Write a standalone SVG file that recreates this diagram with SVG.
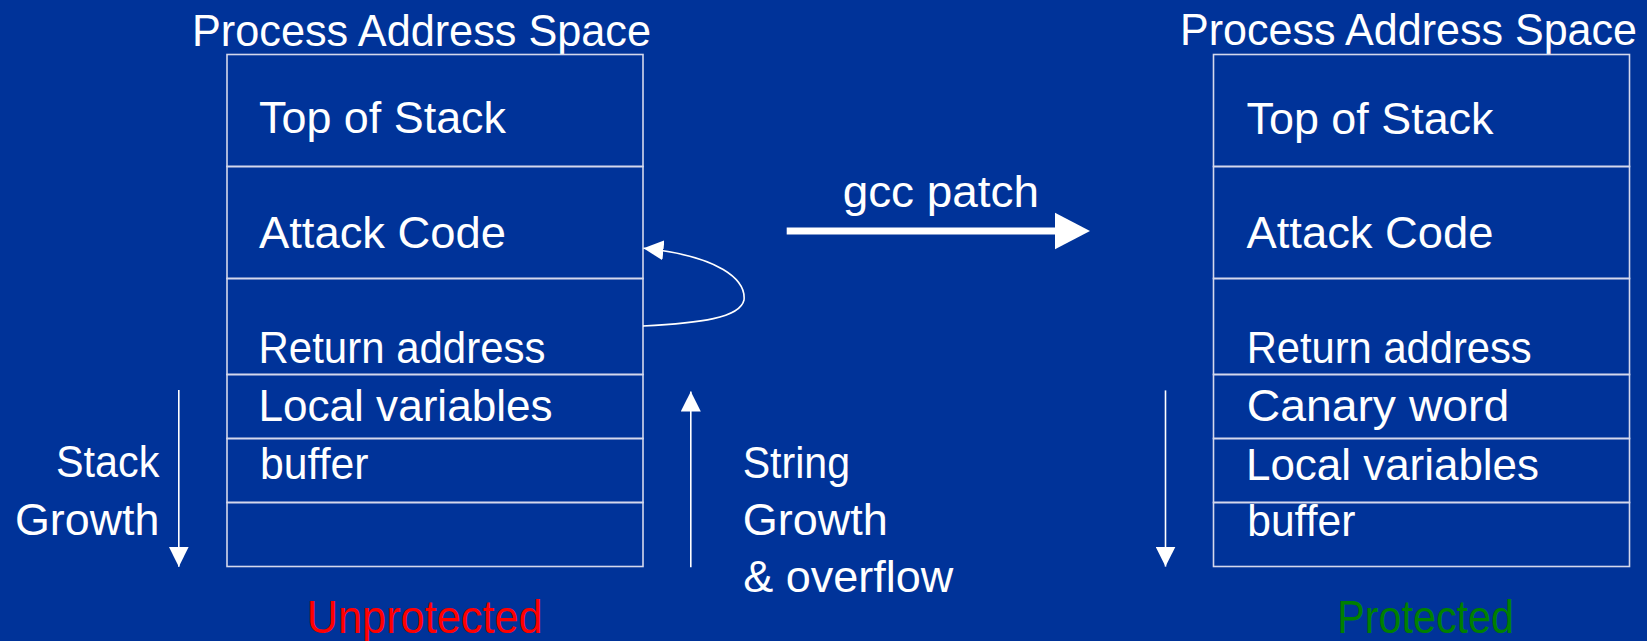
<svg xmlns="http://www.w3.org/2000/svg" width="1647" height="641" viewBox="0 0 1647 641">
  <style>
    .bg { fill: #003399; }
    .cell { fill: none; stroke: #d4d8ec; stroke-width: 1.6; }
    .t { font-family: "Liberation Sans", Arial, sans-serif; font-size: 45px; fill: #ffffff; }
    .title { font-size: 43.5px; }
    .caption { font-size: 47px; }
    .bad { fill: #ff0000; }
    .good { fill: #008000; }
    .thin { fill: none; stroke: #ffffff; stroke-width: 1.6; }
    .fat { fill: none; stroke: #ffffff; stroke-width: 7; }
  </style>
  <defs>
    <marker id="head" viewBox="0 0 20 20" refX="20" refY="10" markerWidth="20" markerHeight="20" markerUnits="userSpaceOnUse" orient="auto">
      <path d="M0,0 L20,10 L0,20 Z" fill="#ffffff"/>
    </marker>
  </defs>

  <rect class="bg" x="0" y="0" width="1647" height="641"/>

  <!-- Left stack: unprotected -->
  <g id="left-stack">
    <text class="t title" x="192" y="45.5" textLength="459" lengthAdjust="spacingAndGlyphs">Process Address Space</text>
    <g id="left-top-of-stack">
      <rect class="cell" x="227" y="54.5" width="416" height="112"/>
      <text class="t" x="259" y="133" textLength="247" lengthAdjust="spacingAndGlyphs">Top of Stack</text>
    </g>
    <g id="left-attack-code">
      <rect class="cell" x="227" y="166.5" width="416" height="112"/>
      <text class="t" x="259" y="248" textLength="247" lengthAdjust="spacingAndGlyphs">Attack Code</text>
    </g>
    <g id="left-return-address">
      <rect class="cell" x="227" y="278.5" width="416" height="96"/>
      <text class="t" x="258.5" y="363" textLength="287" lengthAdjust="spacingAndGlyphs">Return address</text>
    </g>
    <g id="left-local-variables">
      <rect class="cell" x="227" y="374.5" width="416" height="64"/>
      <text class="t" x="258.5" y="421" textLength="294" lengthAdjust="spacingAndGlyphs">Local variables</text>
    </g>
    <g id="left-buffer">
      <rect class="cell" x="227" y="438.5" width="416" height="64"/>
      <text class="t" x="260" y="479" textLength="108.5" lengthAdjust="spacingAndGlyphs">buffer</text>
    </g>
    <g id="left-bottom">
      <rect class="cell" x="227" y="502.5" width="416" height="64"/>
    </g>
    <text class="t caption bad" x="306.7" y="633.3" textLength="236" lengthAdjust="spacingAndGlyphs">Unprotected</text>
  </g>

  <!-- Right stack: protected -->
  <g id="right-stack">
    <text class="t title" x="1180" y="45" textLength="457" lengthAdjust="spacingAndGlyphs">Process Address Space</text>
    <g id="right-top-of-stack">
      <rect class="cell" x="1213.5" y="54.5" width="416" height="112"/>
      <text class="t" x="1246.5" y="133.5" textLength="247" lengthAdjust="spacingAndGlyphs">Top of Stack</text>
    </g>
    <g id="right-attack-code">
      <rect class="cell" x="1213.5" y="166.5" width="416" height="112"/>
      <text class="t" x="1246.5" y="248" textLength="247" lengthAdjust="spacingAndGlyphs">Attack Code</text>
    </g>
    <g id="right-return-address">
      <rect class="cell" x="1213.5" y="278.5" width="416" height="96"/>
      <text class="t" x="1246.7" y="363" textLength="285" lengthAdjust="spacingAndGlyphs">Return address</text>
    </g>
    <g id="right-canary-word">
      <rect class="cell" x="1213.5" y="374.5" width="416" height="64"/>
      <text class="t" x="1246.7" y="421" textLength="262.6" lengthAdjust="spacingAndGlyphs">Canary word</text>
    </g>
    <g id="right-local-variables">
      <rect class="cell" x="1213.5" y="438.5" width="416" height="64"/>
      <text class="t" x="1246" y="479.5" textLength="293" lengthAdjust="spacingAndGlyphs">Local variables</text>
    </g>
    <g id="right-buffer">
      <rect class="cell" x="1213.5" y="502.5" width="416" height="64"/>
      <text class="t" x="1247.3" y="536" textLength="108" lengthAdjust="spacingAndGlyphs">buffer</text>
    </g>
    <text class="t caption good" x="1337.3" y="632.7" textLength="176.7" lengthAdjust="spacingAndGlyphs">Protected</text>
  </g>

  <!-- Side labels -->
  <g id="stack-growth-label">
    <text class="t" x="56" y="477" textLength="103.3" lengthAdjust="spacingAndGlyphs">Stack</text>
    <text class="t" x="15" y="534.5" textLength="144.3" lengthAdjust="spacingAndGlyphs">Growth</text>
  </g>
  <g id="string-growth-label">
    <text class="t" x="742.7" y="477.7" textLength="107.3" lengthAdjust="spacingAndGlyphs">String</text>
    <text class="t" x="742.7" y="535" textLength="145" lengthAdjust="spacingAndGlyphs">Growth</text>
    <text class="t" x="743.3" y="592" textLength="210" lengthAdjust="spacingAndGlyphs">&amp; overflow</text>
  </g>
  <g id="gcc-patch-label">
    <text class="t" x="842.7" y="206.7" textLength="196.3" lengthAdjust="spacingAndGlyphs">gcc patch</text>
  </g>

  <!-- Connectors -->
  <g id="connectors">
    <!-- stack growth, left -->
    <line class="thin" x1="178.8" y1="390" x2="178.8" y2="566.7" marker-end="url(#head)"/>
    <!-- string growth & overflow -->
    <line class="thin" x1="690.8" y1="567.3" x2="690.8" y2="391.5" marker-end="url(#head)"/>
    <!-- return address overwritten to point at attack code -->
    <path class="thin" d="M643,326 C700,323 740,318 744,300 C746,280 720,256 643.5,248.3" marker-end="url(#head)"/>
    <!-- gcc patch -->
    <line class="fat" x1="786.7" y1="231" x2="1058" y2="231"/>
    <path d="M1055,212.7 L1090,231 L1055,249.3 Z" fill="#ffffff"/>
    <!-- stack growth, right -->
    <line class="thin" x1="1165.5" y1="390.4" x2="1165.5" y2="566.6" marker-end="url(#head)"/>
  </g>
</svg>
